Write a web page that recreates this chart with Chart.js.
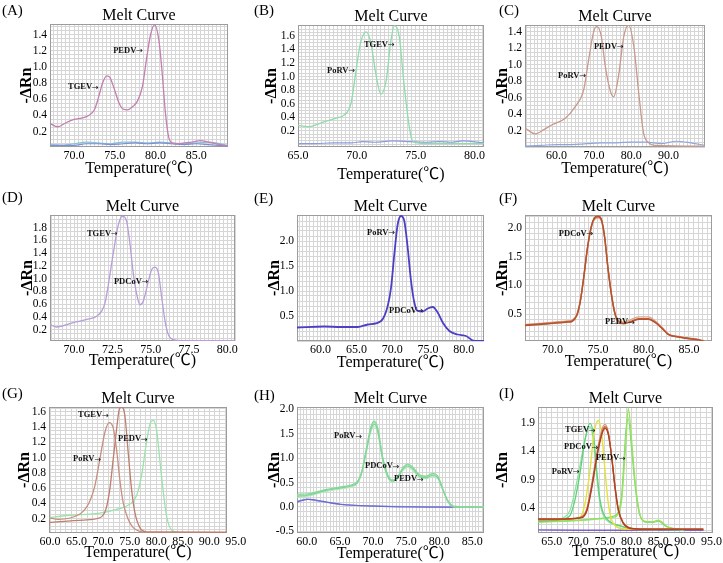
<!DOCTYPE html>
<html><head><meta charset="utf-8">
<script src="https://cdn.jsdelivr.net/npm/chart.js@4.4.1/dist/chart.umd.min.js"></script>
<style>
html,body{margin:0;padding:0;background:#fff;}
#fig{position:relative;width:723px;height:563px;overflow:hidden;background:#fff;}
.plbl{position:absolute;font-family:"Liberation Serif","Times New Roman",serif;font-size:15px;line-height:15px;color:#000;white-space:nowrap;}
</style></head>
<body><div id="fig"></div>
<script>
// ---------------- DATA ----------------
const panelLetters = ['(A)','(B)','(C)','(D)','(E)','(F)','(G)','(H)','(I)'];

// (A)
const aTemp = [67.05,68.0,69.0,70.0,71.0,71.8,72.5,73.0,73.5,74.0,74.4,74.9,75.5,76.0,76.6,77.2,77.8,78.4,78.9,79.4,79.9,80.4,80.8,81.2,81.6,82.0,82.6,83.5,84.5,85.5,86.5,87.5,88.9];
const aMix  = [0.30,0.26,0.31,0.35,0.37,0.40,0.47,0.62,0.80,0.89,0.87,0.74,0.56,0.48,0.47,0.51,0.58,0.76,1.10,1.40,1.52,1.34,0.95,0.45,0.14,0.06,0.05,0.06,0.07,0.09,0.07,0.05,0.02];
const aBlankTemp = [67.05,68.5,70,71.5,73,74.5,76,77.5,79,80.5,82,83.5,85,86.5,88.9];
const aBlank1 = [0.03,0.03,0.03,0.05,0.05,0.04,0.05,0.06,0.05,0.06,0.05,0.04,0.05,0.04,0.02];
const aBlank2 = [0.04,0.03,0.05,0.07,0.06,0.05,0.07,0.07,0.06,0.07,0.06,0.05,0.06,0.07,0.03];
const aXTicks = [70,75,80,85];
const aYTicks = [0.2,0.4,0.6,0.8,1.0,1.2,1.4];
const aNotes = [['TGEV→',69.26,0.75],['PEDV→',74.8,1.20]];

// (B)
const bTemp = [65.0,65.8,67.2,68.3,68.9,69.5,69.9,70.3,70.8,71.2,71.6,72.05,72.5,72.9,73.2,73.6,74.0,74.45,74.7,75.1,76.0,78.0,80.8];
const bMix  = [0.28,0.26,0.33,0.39,0.43,0.60,1.05,1.49,1.66,1.49,1.05,0.74,0.95,1.54,1.75,1.59,0.90,0.26,0.06,0.02,0.01,0.01,0.01];
const bBlankTemp = [65,66.5,68,69.5,70.5,71.5,73,74.5,76,77,78,79,80.8];
const bBlank = [0.01,0.01,0.02,0.02,0.04,0.03,0.05,0.04,0.03,0.04,0.03,0.05,0.02];
const bXTicks = [65,70,75,80];
const bYTicks = [0.2,0.4,0.6,0.8,1.0,1.2,1.4,1.6];
const bNotes = [['PoRV→',67.46,1.09],['TGEV→',70.6,1.47]];

// (C)
const cTemp = [51.55,54.3,56.6,58.8,62.35,65.0,67.3,68.6,69.95,70.8,72.0,73.05,74.4,75.3,76.6,78.0,79.3,80.7,82.0,83.3,84.7,86.4,99.8];
const cMix  = [0.23,0.16,0.21,0.27,0.35,0.49,0.70,1.06,1.40,1.46,1.34,0.98,0.68,0.61,0.86,1.34,1.48,1.22,0.66,0.17,0.05,0.02,0.01];
const cBlankTemp = [51.55,56,60,64,68,72,76,80,84,88,92,96,99.8];
const cBlank = [0.01,0.02,0.03,0.03,0.04,0.05,0.05,0.06,0.06,0.04,0.07,0.05,0.02];
const cXTicks = [60,70,80,90];
const cYTicks = [0.2,0.4,0.6,0.8,1.0,1.2,1.4];
const cNotes = [['PoRV→',60.4,0.865],['PEDV→',70.0,1.216]];

// (D)
const dTemp = [68.43,68.86,69.95,71.04,71.48,71.8,72.02,72.24,72.56,72.89,73.17,73.43,73.65,73.87,74.09,74.3,74.52,74.85,75.06,75.28,75.5,75.72,75.94,76.15,76.48,77.0,80.5];
const dMix  = [0.28,0.24,0.31,0.37,0.41,0.49,0.62,0.91,1.40,1.85,1.98,1.90,1.54,1.07,0.75,0.59,0.65,0.96,1.14,1.18,1.09,0.70,0.33,0.12,0.04,0.025,0.025];
const dXTicks = [70,72.5,75,77.5,80];
const dYTicks = [0.2,0.4,0.6,0.8,1.0,1.2,1.4,1.6,1.8];
const dNotes = [['TGEV→',70.84,1.705],['PDCoV→',72.6,0.95]];

// (E)
const eTemp = [56.7,60.5,62.85,65.2,66.6,68.45,69.38,69.85,70.3,70.77,71.24,71.7,72.17,72.64,73.1,73.57,74.27,74.97,75.67,76.37,77.07,78.0,79.16,80.33,81.5,82.84];
const eMix  = [0.27,0.29,0.28,0.28,0.33,0.40,0.70,1.07,1.73,2.33,2.50,2.40,1.87,1.20,0.77,0.60,0.59,0.65,0.68,0.57,0.37,0.20,0.13,0.10,0.0,0.0];
const eXTicks = [60,65,70,75,80];
const eYTicks = [0.5,1.0,1.5,2.0];
const eNotes = [['PoRV→',66.49,2.17],['PDCoV→',69.56,0.61]];

// (F)
const fTemp = [66.98,69.6,71.8,72.14,72.69,73.05,73.43,73.79,74.15,74.53,75.0,75.36,75.74,76.1,76.54,76.9,77.28,77.82,78.55,79.47,80.57,81.3,82.03,82.77,83.87,84.97,86.07,87.16,87.53];
const fMix1 = [0.31,0.34,0.37,0.38,0.49,0.72,1.13,1.59,1.94,2.15,2.20,2.15,1.83,1.30,0.78,0.49,0.37,0.34,0.37,0.42,0.42,0.36,0.26,0.14,0.10,0.08,0.05,0.01,0.01];
const fMix2 = [0.32,0.35,0.38,0.39,0.50,0.73,1.12,1.57,1.92,2.13,2.18,2.13,1.82,1.31,0.80,0.51,0.39,0.36,0.40,0.45,0.45,0.38,0.27,0.15,0.11,0.08,0.06,0.02,0.01];
const fMix3 = [0.30,0.33,0.36,0.37,0.48,0.71,1.14,1.60,1.95,2.16,2.21,2.16,1.84,1.29,0.77,0.48,0.36,0.33,0.36,0.41,0.41,0.35,0.25,0.14,0.10,0.07,0.05,0.01,0.01];
const fXTicks = [70,75,80,85];
const fYTicks = [0.5,1.0,1.5,2.0];
const fNotes = [['PDCoV→',70.7,1.90],['PEDV→',75.77,0.36]];

// (G)
const gPoRVTemp = [59.81,61.56,65.63,66.57,67.51,68.45,69.39,70.33,71.15,71.9,72.53,73.15,73.78,74.72,75.66,76.92,78.5,93.33];
const gPoRV     = [0.21,0.19,0.26,0.32,0.43,0.63,0.98,1.33,1.46,1.39,1.11,0.71,0.41,0.19,0.08,0.03,0.015,0.01];
const gTGEVTemp = [59.81,66.3,69.39,70.52,71.27,71.9,72.53,73.03,73.53,74.1,74.72,75.35,75.98,76.92,78.17,93.33];
const gTGEV     = [0.15,0.18,0.21,0.32,0.59,0.98,1.37,1.63,1.67,1.55,1.07,0.59,0.28,0.08,0.025,0.02];
const gPEDVTemp = [59.81,63.13,69.39,72.53,75.04,76.29,77.23,78.17,78.92,79.43,80.05,80.99,81.93,82.87,84.44,93.33];
const gPEDV     = [0.21,0.24,0.27,0.32,0.39,0.50,0.76,1.20,1.46,1.49,1.37,0.76,0.24,0.05,0.015,0.01];
const gXTicks = [60,65,70,75,80,85,90,95];
const gYTicks = [0.2,0.4,0.6,0.8,1.0,1.2,1.4,1.6];
const gNotes = [['PoRV→',64.33,0.98],['TGEV→',65.28,1.56],['PEDV→',72.8,1.245]];

// (H)
const hTemp = [58.51,60.13,62.64,65.16,66.67,67.68,68.28,68.93,69.69,70.19,70.7,71.46,72.21,72.97,73.72,74.48,75.23,75.99,76.99,78.0,79.01,79.77,80.52,81.28,82.28,86.76];
const hMix1 = [0.26,0.27,0.35,0.41,0.45,0.53,0.72,1.15,1.65,1.76,1.62,1.02,0.66,0.55,0.62,0.80,0.88,0.82,0.66,0.63,0.69,0.64,0.38,0.13,0.01,0.0];
const hMix2 = [0.22,0.24,0.33,0.39,0.43,0.51,0.70,1.11,1.59,1.70,1.56,0.98,0.63,0.53,0.60,0.77,0.84,0.78,0.63,0.60,0.65,0.60,0.36,0.12,0.0,-0.01];
const hMix3 = [0.20,0.22,0.31,0.37,0.41,0.49,0.68,1.08,1.55,1.65,1.51,0.95,0.61,0.52,0.58,0.74,0.81,0.75,0.61,0.58,0.62,0.58,0.35,0.12,0.0,-0.01];
const hMix4 = [0.24,0.25,0.34,0.40,0.44,0.52,0.71,1.13,1.62,1.73,1.59,1.00,0.65,0.54,0.61,0.79,0.86,0.80,0.65,0.62,0.67,0.62,0.37,0.13,0.01,0.0];
const hBlankTemp = [58.51,60.13,60.88,63.5,65.16,70.19,75.23,80.0,86.76];
const hBlank1 = [0.10,0.155,0.15,0.086,0.053,0.018,0.0,-0.005,-0.01];
const hBlank2 = [0.12,0.16,0.14,0.08,0.05,0.02,0.005,0.0,-0.01];
const hXTicks = [60,65,70,75,80,85];
const hYTicks = [-0.5,0.0,0.5,1.0,1.5,2.0];
const hNotes = [['PoRV→',64.1,1.45],['PDCoV→',68.78,0.84],['PEDV→',73.16,0.57]];

// (I)
const iGreenTemp = [62.43,65.0,67.18,68.43,69.37,70.31,71.25,72.19,72.81,73.45,74.07,74.69,75.94,77.82,79.7,90.0];
const iGreen1 = [0.16,0.17,0.20,0.26,0.54,1.01,1.60,1.90,1.72,1.07,0.54,0.30,0.15,0.08,0.03,0.01];
const iGreen2 = [0.15,0.17,0.22,0.35,0.70,1.15,1.62,1.84,1.60,0.95,0.47,0.26,0.13,0.07,0.03,0.01];
const iYellowTemp = [62.43,66.0,70.31,71.25,72.19,72.94,73.76,74.38,75.0,75.63,76.26,77.2,79.07,85.0];
const iYellow = [0.18,0.19,0.23,0.47,1.07,1.72,1.95,1.72,1.07,0.47,0.18,0.06,0.02,0.01];
const iBrownTemp = [62.43,66.0,70.31,71.56,72.5,73.45,74.38,75.0,75.63,76.26,76.88,77.51,78.45,79.7,81.58,93.47];
const iBrown1 = [0.19,0.19,0.22,0.35,0.77,1.31,1.72,1.84,1.72,1.31,0.77,0.36,0.12,0.03,0.017,0.017];
const iBrown2 = [0.18,0.19,0.23,0.38,0.82,1.37,1.78,1.88,1.74,1.30,0.74,0.34,0.11,0.03,0.017,0.017];
const iBrown3 = [0.20,0.20,0.22,0.33,0.74,1.28,1.69,1.81,1.70,1.30,0.78,0.37,0.13,0.04,0.02,0.02];
const iLimeTemp = [62.43,68.0,71.56,74.0,76.57,77.51,78.13,78.57,78.95,79.38,80.0,80.64,81.27,81.89,82.83,84.08,85.02,85.65,86.59,88.47,89.72];
const iLime1 = [0.14,0.16,0.18,0.20,0.23,0.29,0.53,1.07,1.60,2.17,1.60,0.89,0.42,0.20,0.15,0.15,0.18,0.15,0.07,0.02,0.0];
const iLime2 = [0.15,0.17,0.19,0.21,0.25,0.33,0.62,1.25,1.80,1.98,1.45,0.80,0.38,0.19,0.14,0.14,0.16,0.13,0.06,0.02,0.0];
const iBlankTemp = [62.43,70,80,90,93.5];
const iBlank = [0.005,0.0,0.0,0.0,0.0];
const iXTicks = [65,70,75,80,85,90,95];
const iYTicks = [0.4,0.9,1.4,1.9];
const iNotes = [['TGEV→',67.5,1.78],['PDCoV→',67.3,1.48],['PEDV→',73.3,1.28],['PoRV→',65.0,1.04]];

// ---------------- LAYOUT / STYLE ----------------
const FONT = '"Liberation Serif","Times New Roman",serif';
const FONT_UNIT = '"Liberation Serif","Noto Sans CJK SC",serif';
const ARROW_FONT = '"DejaVu Sans",sans-serif';
const GRID = '#d6d6d6';
const FRAME = '#9c9c9c';

const S = (x, y, color, width) => ({x, y, color, width: width || 1.2});

const panels = [
  {left:0,  top:0,  w:250, h:188, lab:[2,3],   plot:[50,24,228,147],  x:[67.05,88.9,0.5], y:[0.01,1.53,0.05], xt:aXTicks, yt:aYTicks, titleY:169, yTitleX:26.5, notes:aNotes,
   series:[S(aTemp,aMix,'#c27fb0',1.3), S(aBlankTemp,aBlank1,'#7f8fd6'), S(aBlankTemp,aBlank2,'#86c3d6')]},
  {left:241,top:0,  w:246, h:188, lab:[254,3], plot:[298,25,484,147], x:[65,80.8,1/3],  y:[-0.04,1.76,0.05], xt:bXTicks, yt:bYTicks, titleY:175, yTitleX:271.8, notes:bNotes,
   series:[S(bTemp,bMix,'#8fdcaa',1.3), S(bBlankTemp,bBlank,'#8b9bdc')]},
  {left:482,top:0,  w:241, h:188, lab:[499,3], plot:[525,25,705,147], x:[51.55,99.76,1], y:[0.0,1.48,0.05], xt:cXTicks, yt:cYTicks, titleY:169, yTitleX:502.8, notes:cNotes,
   series:[S(cTemp,cMix,'#c99a8c',1.3), S(cBlankTemp,cBlank,'#8ea6e0')]},
  {left:0,  top:188,w:250, h:188, lab:[2,190],  plot:[50,215,235,341], x:[68.43,80.5,0.25], y:[0.02,2.0,0.2/3], xt:dXTicks, yt:dYTicks, titleY:361, yTitleX:27.5, notes:dNotes,
   series:[S(dTemp,dMix,'#b79ed9',1.3)]},
  {left:241,top:188,w:246, h:188, lab:[254,191],plot:[297,215,484,341], x:[56.7,82.84,0.5], y:[0,2.52,0.1], xt:eXTicks, yt:eYTicks, titleY:363, yTitleX:275, notes:eNotes,
   series:[S(eTemp,eMix,'#4b3fc6',1.8)]},
  {left:482,top:188,w:241, h:188, lab:[499,191],plot:[525,215,712,341], x:[66.98,87.53,0.5], y:[0.03,2.23,0.1], xt:fXTicks, yt:fYTicks, titleY:362, yTitleX:503, notes:fNotes,
   series:[S(fTemp,fMix3,'#b5532f',1.4), S(fTemp,fMix1,'#c4643f',1.4), S(fTemp,fMix2,'#d9a88f',1.3)]},
  {left:0,  top:376,w:250, h:187, lab:[2,386],  plot:[49,407,227,533], x:[59.81,93.33,1], y:[0.01,1.665,0.05], xt:gXTicks, yt:gYTicks, titleY:553, yTitleX:25, notes:gNotes,
   series:[S(gTGEVTemp,gTGEV,'#bd7d6f',1.3), S(gPoRVTemp,gPoRV,'#c5907f',1.3), S(gPEDVTemp,gPEDV,'#9be3ac',1.3)]},
  {left:241,top:376,w:246, h:187, lab:[254,388],plot:[297,407,484,533], x:[58.51,86.76,0.5], y:[-0.535,2.05,0.1], xt:hXTicks, yt:hYTicks, titleY:554, yTitleX:275, notes:hNotes,
   series:[S(hTemp,hMix1,'#86d89a',1.2), S(hTemp,hMix2,'#7fd493',1.2), S(hTemp,hMix3,'#b5e9c1',1.2), S(hTemp,hMix4,'#a8e4b6',1.2), S(hBlankTemp,hBlank1,'#6b6bd2',1.3), S(hBlankTemp,hBlank2,'#9a9ae0',1.2)]},
  {left:482,top:376,w:241, h:187, lab:[499,386],plot:[538,407,713,533], x:[62.43,95.28,1], y:[-0.05,2.19,0.1], xt:iXTicks, yt:iYTicks, titleY:552, yTitleX:503, notes:iNotes,
   series:[S(iBrownTemp,iBrown3,'#b04020',1.3), S(iBrownTemp,iBrown1,'#c2582f',1.3), S(iBrownTemp,iBrown2,'#d49a86',1.2),
           S(iYellowTemp,iYellow,'#e3e23c',1.4), S(iGreenTemp,iGreen1,'#5fd07a',1.3), S(iGreenTemp,iGreen2,'#8fe09f',1.2),
           S(iLimeTemp,iLime1,'#98e35a',1.3), S(iLimeTemp,iLime2,'#7ed67a',1.2), S(iBlankTemp,iBlank,'#7e62c8',1.4)]}
];

// ---------------- BUILD ----------------
Chart.defaults.font.family = FONT;
Chart.defaults.color = '#000';

function denseTicks(min, max, step, labels) {
  const out = [];
  const n0 = Math.ceil(min / step - 1e-7), n1 = Math.floor(max / step + 1e-7);
  for (let n = n0; n <= n1; n++) out.push(+(n * step).toFixed(6));
  labels.forEach(v => { if (!out.some(t => Math.abs(t - v) < 1e-6)) out.push(v); });
  return out.sort((a, b) => a - b);
}
const has = (arr, v) => arr.some(a => Math.abs(a - v) < 1e-6);

const framePlugin = {
  id: 'frame',
  beforeDatasetsDraw(chart) {
    const a = chart.chartArea, ctx = chart.ctx;
    ctx.save();
    ctx.strokeStyle = FRAME; ctx.lineWidth = 1;
    ctx.strokeRect(Math.round(a.left) + 0.5, Math.round(a.top) + 0.5, Math.round(a.right - a.left) - 1, Math.round(a.bottom - a.top) - 1);
    ctx.restore();
  }
};
const notesPlugin = notes => ({
  id: 'notes',
  afterDatasetsDraw(chart) {
    const ctx = chart.ctx, xs = chart.scales.x, ys = chart.scales.y;
    ctx.save();
    ctx.fillStyle = '#111'; ctx.textAlign = 'left'; ctx.textBaseline = 'middle';
    notes.forEach(n => {
      const px = xs.getPixelForValue(n[1]), py = ys.getPixelForValue(n[2]);
      const parts = n[0].split('→');
      ctx.font = 'bold 8.5px ' + FONT;
      ctx.fillText(parts[0], px, py);
      const w = ctx.measureText(parts[0]).width;
      ctx.font = '8px ' + ARROW_FONT;
      ctx.fillText('→', px + w, py + 0.5);
    });
    ctx.restore();
  }
});

const fig = document.getElementById('fig');
panels.forEach((p, k) => {
  const cv = document.createElement('canvas');
  cv.width = p.w; cv.height = p.h;
  cv.style.cssText = `position:absolute;left:${p.left}px;top:${p.top}px;width:${p.w}px;height:${p.h}px;`;
  fig.appendChild(cv);

  const pl = p.plot[0] - p.left, pt = p.plot[1] - p.top, pr = p.plot[2] - p.left, pb = p.plot[3] - p.top;
  const [xmin, xmax, xstep] = p.x, [ymin, ymax, ystep] = p.y;
  const xt = denseTicks(xmin, xmax, xstep, p.xt), yt = denseTicks(ymin, ymax, ystep, p.yt);
  const gridColor = (lo, hi) => c => (c.tick && (c.tick.value > hi + 1e-9 || c.tick.value < lo - 1e-9)) ? 'rgba(0,0,0,0)' : GRID;

  new Chart(cv, {
    type: 'line',
    data: { datasets: p.series.map(s => ({
      data: s.x.map((t, i) => ({x: t, y: s.y[i]})),
      borderColor: s.color, borderWidth: s.width, pointRadius: 0, fill: false,
      cubicInterpolationMode: 'monotone'
    })) },
    options: {
      responsive: false, animation: false, devicePixelRatio: 1, events: [],
      layout: { padding: { left: 0, top: pt - 16, right: p.w - pr, bottom: 0 } },
      plugins: {
        legend: { display: false }, tooltip: { enabled: false },
        title: { display: true, text: 'Melt Curve', fullSize: false, color: '#000',
                 font: { family: FONT, size: 16, weight: 'normal', lineHeight: 1 }, padding: 0 }
      },
      scales: {
        x: {
          type: 'linear', min: xmin, max: xmax,
          afterBuildTicks: s => { s.ticks = xt.map(v => ({value: v})); },
          afterFit: s => { s.height = p.h - pb; s.paddingLeft = 0; s.paddingRight = 0; s.paddingTop = 0; s.paddingBottom = 0; },
          ticks: { autoSkip: false, maxRotation: 0, minRotation: 0, padding: 2, color: '#000',
                   font: { family: FONT, size: 12 }, callback: v => has(p.xt, v) ? Number(v).toFixed(1) : '' },
          grid: { color: gridColor(xmin, xmax), drawTicks: false, lineWidth: 1 },
          border: { display: false },
          title: { display: true, text: 'Temperature(℃)', color: '#000',
                   font: { family: FONT_UNIT, size: 16, lineHeight: 1.2 },
                   padding: { top: 0, bottom: Math.max(0, p.h - (p.titleY - p.top) - 9.6) } }
        },
        y: {
          type: 'linear', min: ymin, max: ymax,
          afterBuildTicks: s => { s.ticks = yt.map(v => ({value: v})); },
          afterFit: s => { s.width = pl; s.paddingTop = 0; s.paddingBottom = 0; s.paddingLeft = 0; s.paddingRight = 0; },
          ticks: { autoSkip: false, padding: 3, color: '#000',
                   font: { family: FONT, size: 11.5 }, callback: v => has(p.yt, v) ? Number(v).toFixed(1) : '' },
          grid: { color: gridColor(ymin, ymax), drawTicks: false, lineWidth: 1 },
          border: { display: false },
          title: { display: true, text: '-ΔRn', color: '#000',
                   font: { family: FONT, size: 16, weight: 'bold', lineHeight: 1.2 },
                   padding: { top: Math.max(0, p.yTitleX - p.left - 9.6), bottom: 0 } }
        }
      }
    },
    plugins: [framePlugin, notesPlugin(p.notes)]
  });

  const d = document.createElement('div');
  d.className = 'plbl';
  d.style.left = p.lab[0] + 'px'; d.style.top = p.lab[1] + 'px';
  d.textContent = panelLetters[k];
  fig.appendChild(d);
});
</script>
</body></html>
